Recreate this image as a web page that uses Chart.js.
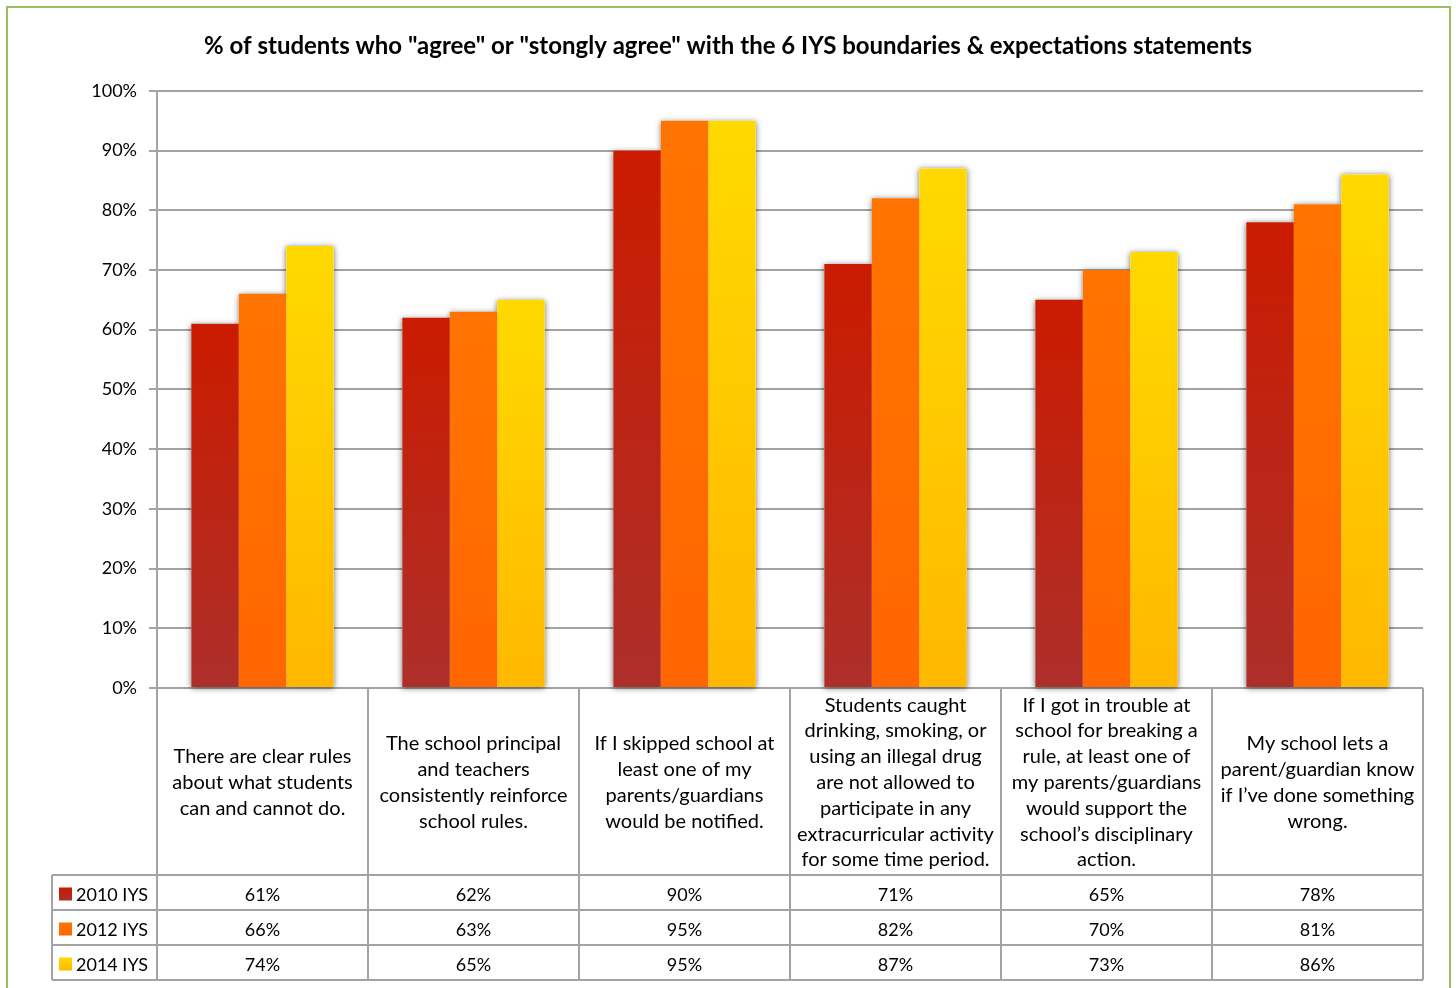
<!DOCTYPE html>
<html>
<head>
<meta charset="utf-8">
<script src="https://cdn.jsdelivr.net/npm/chart.js@4.4.1/dist/chart.umd.min.js"></script>
<style>
  html, body { margin: 0; padding: 0; background: #fff; }
  #wrap { position: relative; width: 1456px; height: 988px; }
</style>
</head>
<body>
<div id="wrap"><canvas id="iysChart" width="1456" height="988"></canvas></div>
<script>
// statements, one array of text lines per category
var statements = [
  ["There are clear rules", "about what students", "can and cannot do."],
  ["The school principal", "and teachers", "consistently reinforce", "school rules."],
  ["If I skipped school at", "least one of my", "parents/guardians", "would be notified."],
  ["Students caught", "drinking, smoking, or", "using an illegal drug", "are not allowed to", "participate in any", "extracurricular activity", "for some time period."],
  ["If I got in trouble at", "school for breaking a", "rule, at least one of", "my parents/guardians", "would support the", "school\u2019s disciplinary", "action."],
  ["My school lets a", "parent/guardian know", "if I\u2019ve done something", "wrong."]
];
var seriesNames = ["2010 IYS", "2012 IYS", "2014 IYS"];
var pct2010 = [61, 62, 90, 71, 65, 78];
var pct2012 = [66, 63, 95, 82, 70, 81];
var pct2014 = [74, 65, 95, 87, 73, 86];

// top / bottom colour of each series gradient
var fills = [
  ["#cb1b00", "#ad2f2a"],
  ["#ff7400", "#ff6600"],
  ["#ffd900", "#ffb800"]
];

var FONT = "Lato, 'Open Sans', sans-serif";
var GRID = "#a3a3a3";

function barGradient(ctx, i) {
  var chart = ctx.chart;
  var area = chart.chartArea;
  if (!area || ctx.type !== "data") return fills[i][0];
  var y = chart.scales.y;
  var top = y.getPixelForValue(ctx.raw);
  var g = chart.ctx.createLinearGradient(0, top, 0, area.bottom);
  g.addColorStop(0, fills[i][0]);
  g.addColorStop(1, fills[i][1]);
  return g;
}

// soft shadow behind every bar
var barShadow = {
  id: "barShadow",
  beforeDatasetsDraw: function (chart) {
    var c = chart.ctx;
    c.save();
    c.shadowColor = "rgba(0,0,0,0.55)";
    c.shadowBlur = 6;
    c.shadowOffsetX = 0;
    c.shadowOffsetY = 1;
    c.fillStyle = "#ffffff";
    chart.data.datasets.forEach(function (ds, di) {
      chart.getDatasetMeta(di).data.forEach(function (bar) {
        var p = bar.getProps(["x", "y", "base", "width"], true);
        c.fillRect(p.x - p.width / 2, p.y, p.width, p.base - p.y);
      });
    });
    c.restore();
  }
};

// data table under the plot: statements, legend keys and values
var dataTable = {
  id: "dataTable",
  afterDraw: function (chart) {
    var c = chart.ctx;
    var area = chart.chartArea;
    var n = statements.length;
    var colW = (area.right - area.left) / n;
    var headTop = area.bottom, headBot = 875, rowH = 35;
    var tableBot = headBot + rowH * 3;
    var keyLeft = 52;
    var rows = [pct2010, pct2012, pct2014];

    c.save();
    c.strokeStyle = GRID;
    c.lineWidth = 2;
    c.beginPath();
    for (var i = 0; i <= n; i++) {
      var x = area.left + colW * i;
      c.moveTo(x, headTop);
      c.lineTo(x, tableBot);
    }
    c.moveTo(keyLeft, headBot);
    c.lineTo(keyLeft, tableBot);
    for (var r = 0; r <= 3; r++) {
      var y = headBot + rowH * r;
      c.moveTo(keyLeft, y);
      c.lineTo(area.right, y);
    }
    c.stroke();

    c.fillStyle = "#000";
    c.font = "20px " + FONT;
    c.textAlign = "center";
    c.textBaseline = "middle";
    var lineH = 25.8;
    statements.forEach(function (lines, k) {
      var cx = chart.scales.x.getPixelForValue(k);
      var mid = (headTop + headBot) / 2 + 1;
      var start = mid - (lines.length - 1) * lineH / 2;
      lines.forEach(function (t, j) {
        c.fillText(t, cx, start + j * lineH);
      });
    });

    c.font = "18px " + FONT;
    rows.forEach(function (vals, r) {
      var cy = headBot + rowH * r + rowH / 2 + 3;
      vals.forEach(function (v, k) {
        c.fillText(v + "%", chart.scales.x.getPixelForValue(k), cy);
      });
      // legend key
      var ky = cy - 8;
      var g = c.createLinearGradient(0, ky, 0, ky + 13);
      g.addColorStop(0, fills[r][0]);
      g.addColorStop(1, fills[r][1]);
      c.fillStyle = g;
      c.fillRect(59, ky, 13, 13);
      c.fillStyle = "#000";
      c.textAlign = "left";
      c.fillText(seriesNames[r], 76, cy);
      c.textAlign = "center";
    });

    // outer frame
    c.strokeStyle = "#9fbe5a";
    c.lineWidth = 2;
    c.strokeRect(7, 7, 1443, 990);
    c.restore();
  }
};

var datasets = [pct2010, pct2012, pct2014].map(function (vals, i) {
  return {
    label: seriesNames[i],
    data: vals,
    backgroundColor: function (ctx) { return barGradient(ctx, i); },
    borderWidth: 0,
    categoryPercentage: 0.675,
    barPercentage: 1.0
  };
});

new Chart(document.getElementById("iysChart"), {
  type: "bar",
  data: {
    labels: statements.map(function (s) { return s.join(" "); }),
    datasets: datasets
  },
  options: {
    responsive: false,
    animation: false,
    layout: { padding: { left: 33, right: 33, top: 0, bottom: 300 } },
    plugins: {
      legend: { display: false },
      tooltip: { enabled: false },
      title: {
        display: true,
        text: "% of students who \"agree\" or \"stongly agree\" with the 6 IYS boundaries & expectations statements",
        color: "#000",
        font: { family: FONT, size: 24, weight: "bold" },
        padding: { top: 32, bottom: 30 }
      }
    },
    scales: {
      x: { display: false },
      y: {
        min: 0,
        max: 100,
        afterFit: function (scale) { scale.width = 124; },
        ticks: {
          stepSize: 10,
          color: "#000",
          padding: 12,
          font: { family: FONT, size: 18 },
          callback: function (v) { return v + "%"; }
        },
        grid: { color: GRID, lineWidth: 2, tickLength: 8 },
        border: { color: GRID, width: 2 }
      }
    }
  },
  plugins: [barShadow, dataTable]
});
</script>
</body>
</html>
